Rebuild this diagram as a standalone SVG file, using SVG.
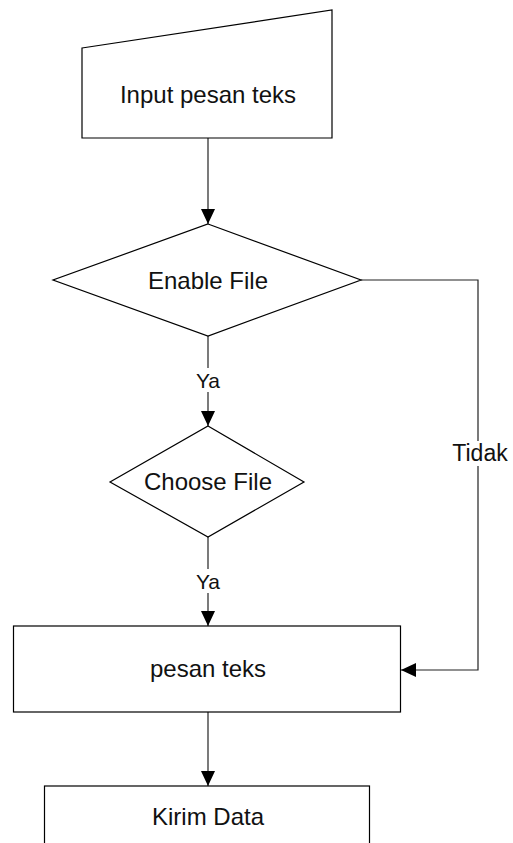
<svg xmlns="http://www.w3.org/2000/svg" width="513" height="843" viewBox="0 0 513 843">
  <style>
    .shape { fill: #ffffff; stroke: #000000; stroke-width: 1.2; }
    .edge { fill: none; stroke: #222222; stroke-width: 1.2; }
    .label { font-family: "Liberation Sans", Arial, sans-serif; font-size: 24px; fill: #111111; text-anchor: middle; dominant-baseline: central; }
    .elabel { font-family: "Liberation Sans", Arial, sans-serif; font-size: 21px; fill: #111111; text-anchor: middle; dominant-baseline: central; }
    .bg { fill: #ffffff; }
  </style>
  <defs>
    <marker id="arrow" viewBox="0 0 15 14" refX="15" refY="7" markerWidth="15" markerHeight="14" markerUnits="userSpaceOnUse" orient="auto">
      <path d="M0,0 L15,7 L0,14 Z" fill="#000000"/>
    </marker>
  </defs>
  <rect width="513" height="843" fill="#ffffff"/>

  <!-- connectors -->
  <g id="connectors">
    <path class="edge" d="M208,138 V224" marker-end="url(#arrow)"/>
    <path class="edge" d="M208,336 V426" marker-end="url(#arrow)"/>
    <path class="edge" d="M208,537 V626" marker-end="url(#arrow)"/>
    <path class="edge" d="M361,280 H478 V670 H401" marker-end="url(#arrow)"/>
    <path class="edge" d="M208,712 V786" marker-end="url(#arrow)"/>
    <!-- edge labels -->
    <rect class="bg" x="193" y="368" width="30" height="24"/>
    <text class="elabel" x="208" y="380">Ya</text>
    <rect class="bg" x="193" y="569" width="30" height="24"/>
    <text class="elabel" x="208" y="581">Ya</text>
    <rect class="bg" x="449" y="441" width="62" height="25"/>
    <text class="elabel" x="480" y="453" style="font-size:23px">Tidak</text>
  </g>

  <g id="input">
    <path class="shape" d="M82,48 L332,10 V138 H82 Z"/>
    <text class="label" x="208" y="94">Input pesan teks</text>
  </g>

  <g id="enable-file">
    <path class="shape" d="M208,224 L361,280 L208,336 L53,280 Z"/>
    <text class="label" x="208" y="280">Enable File</text>
  </g>

  <g id="choose-file">
    <path class="shape" d="M208,426 L304,482 L208,537 L110,482 Z"/>
    <text class="label" x="208" y="481">Choose File</text>
  </g>

  <g id="pesan-teks">
    <rect class="shape" x="13.5" y="626" width="387" height="86"/>
    <text class="label" x="208" y="668">pesan teks</text>
  </g>

  <g id="kirim-data">
    <rect class="shape" x="44.5" y="786" width="325" height="80"/>
    <text class="label" x="208" y="816">Kirim Data</text>
  </g>
</svg>
